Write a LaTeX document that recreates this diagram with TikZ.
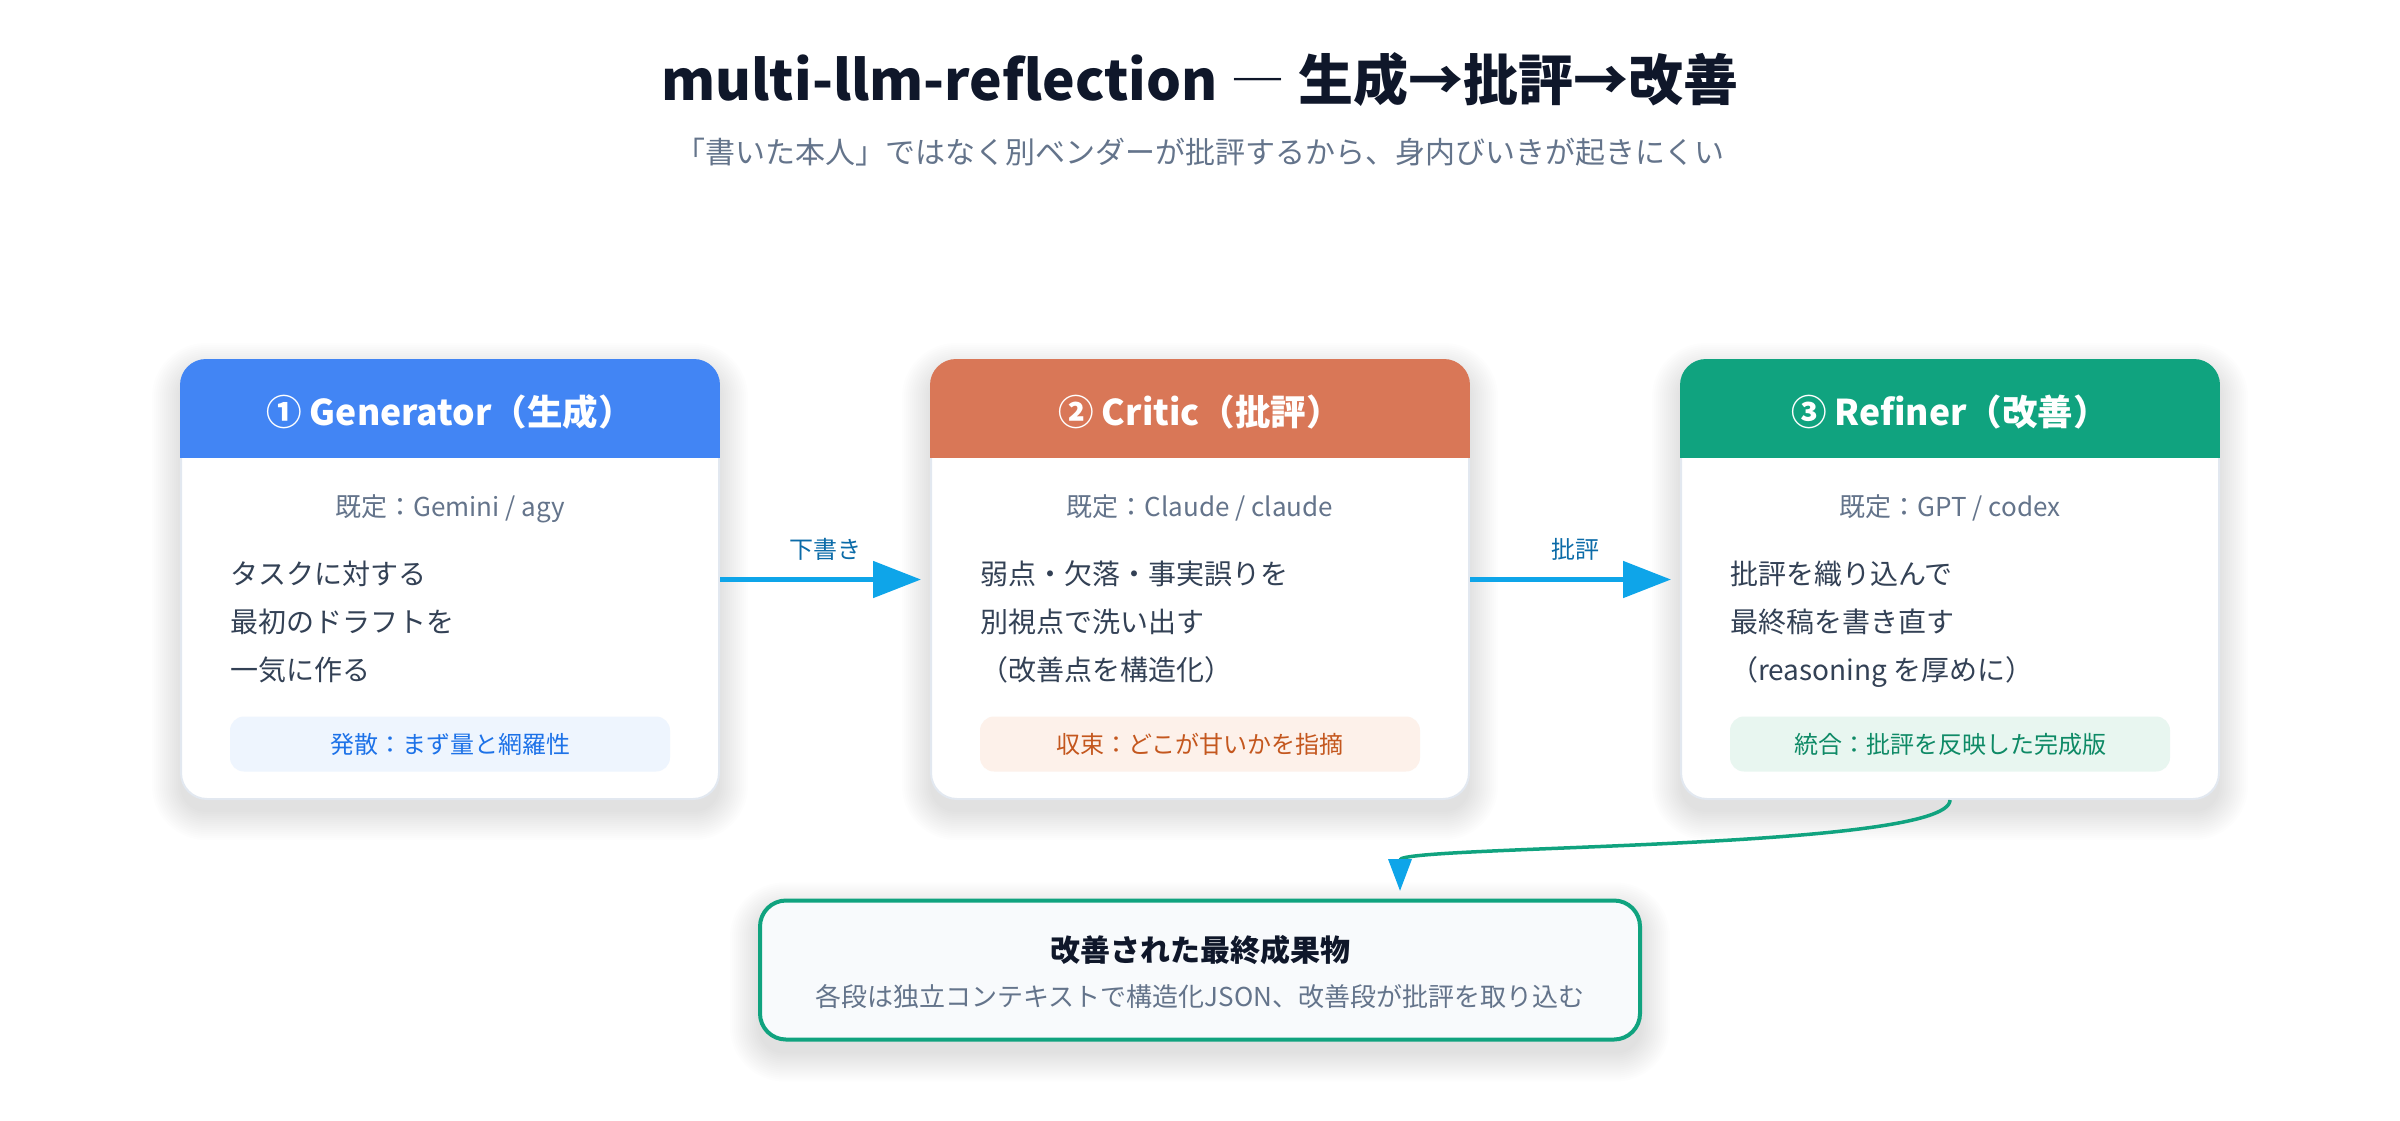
\documentclass[tikz,border=0pt]{standalone}
\usepackage{fontspec}
\setmainfont{Noto Sans CJK JP}
\usetikzlibrary{arrows.meta}
\pgfdeclarelayer{bg}
\pgfdeclarelayer{shadow}
\pgfsetlayers{bg,shadow,main}
\definecolor{ink}{HTML}{0F172A}
\definecolor{slate}{HTML}{64748B}
\definecolor{bodyc}{HTML}{334155}
\definecolor{cardline}{HTML}{E2E8F0}
\definecolor{gblue}{HTML}{4285F4}
\definecolor{corange}{HTML}{D97757}
\definecolor{ogreen}{HTML}{10A37F}
\definecolor{sky}{HTML}{0EA5E9}
\definecolor{skytext}{HTML}{0B6BA8}
\definecolor{tagbf}{HTML}{EEF5FE}
\definecolor{tagbt}{HTML}{1D72E8}
\definecolor{tagof}{HTML}{FDF1EA}
\definecolor{tagot}{HTML}{C4571E}
\definecolor{taggf}{HTML}{E8F6F0}
\definecolor{taggt}{HTML}{0E8A66}
\definecolor{finfill}{HTML}{F8FAFC}
\newcommand\softshadow[2]{%
  \begin{pgfonlayer}{shadow}
  \foreach \k in {0,2,...,28}{
    \pgfmathsetmacro\rr{#2+\k}
    \fill[black,opacity=0.008,rounded corners=\rr pt]
      ([xshift=-\k pt,yshift={\k pt-12pt}]#1.north west) rectangle
      ([xshift=\k pt,yshift={-\k pt-12pt}]#1.south east);
  }
  \end{pgfonlayer}}
\tikzset{
  fs/.style 2 args={font=\fontsize{#1}{#2}\selectfont},
  card/.style={draw=cardline, line width=2pt, fill=white, rounded corners=26pt,
    minimum width=538pt, minimum height=439pt, inner sep=0pt},
  hdr/.style={text=white, font=\bfseries\fontsize{35.5}{40}\selectfont, inner sep=0pt,
    text height=31.2pt, text depth=4.3pt},
  model/.style={fs={26}{30}, text=slate, inner sep=0pt, text height=22.9pt, text depth=3.1pt},
  bodyline/.style={fs={28}{34}, text=bodyc, anchor=west, inner sep=0pt,
    text height=24.6pt, text depth=3.4pt},
  tagpill/.style={rounded corners=14pt, minimum width=440pt, minimum height=55pt,
    inner sep=0pt, fs={24}{28}, text height=21.1pt, text depth=2.9pt},
  flow/.style={draw=sky, line width=5pt, -{Triangle[length=48pt,width=36pt]}, shorten >=9pt},
  flowlabel/.style={fs={24}{28}, text=skytext, inner sep=0pt},
}
\begin{document}
\begin{tikzpicture}[x=1pt,y=-1pt]
\begin{pgfonlayer}{bg}
\fill[white] (0,0) rectangle (2400,1120);
\end{pgfonlayer}
\useasboundingbox (0,0) rectangle (2400,1120);

% title
\node[font=\bfseries\fontsize{55}{62}\selectfont, text=ink, inner sep=0pt] (ttl) at (1200,80)
  {multi-llm-reflection\hspace{13pt}{\mdseries ―}\hspace{13pt}生成→批評→改善};
\node[fs={30}{34}, text=slate, inner sep=0pt] (sub) at (1200,152)
  {「書いた本人」ではなく別ベンダーが批評するから、身内びいきが起きにくい};

% cards
\foreach \nm/\cx/\col in {gen/450/gblue, crit/1200/corange, ref/1950/ogreen}{
  \node[card] (\nm) at (\cx,579.5) {};
  \softshadow{\nm}{26}
  \begin{scope}
    \clip[rounded corners=26pt] (\nm.north west) rectangle (\nm.south east);
    \fill[\col] (\nm.north west) rectangle ([yshift=-99pt]\nm.north east);
  \end{scope}
}

% headers
\node[hdr] (genh) at (450,412) {① Generator（生成）};
\node[hdr] (crith) at (1200,412) {② Critic（批評）};
\node[hdr] (refh) at (1950,412) {③ Refiner（改善）};

% model labels
\node[model] (genm) at (450,507) {既定：Gemini / agy};
\node[model] (critm) at (1200,507) {既定：Claude / claude};
\node[model] (refm) at (1950,507) {既定：GPT / codex};

% bodies
\node[bodyline] (g1) at (230,574) {タスクに対する};
\node[bodyline] (g2) at (230,622) {最初のドラフトを};
\node[bodyline] (g3) at (230,670) {一気に作る};
\node[bodyline] (c1) at (980,574) {弱点・欠落・事実誤りを};
\node[bodyline] (c2) at (980,622) {別視点で洗い出す};
\node[bodyline] (c3) at (980,670) {（改善点を構造化）};
\node[bodyline] (r1) at (1730,574) {批評を織り込んで};
\node[bodyline] (r2) at (1730,622) {最終稿を書き直す};
\node[bodyline] (r3) at (1730,670) {（reasoning を厚めに）};

% tags
\node[tagpill, fill=tagbf, text=tagbt] (gent) at (450,744) {発散：まず量と網羅性};
\node[tagpill, fill=tagof, text=tagot] (critt) at (1200,744) {収束：どこが甘いかを指摘};
\node[tagpill, fill=taggf, text=taggt] (reft) at (1950,744) {統合：批評を反映した完成版};

% final box
\node[draw=ogreen, line width=4pt, fill=finfill, rounded corners=26pt,
  minimum width=880pt, minimum height=139pt, inner sep=0pt] (fin) at (1200,970) {};
\softshadow{fin}{26}
\node[font=\bfseries\fontsize{30}{34}\selectfont, text=ink, inner sep=0pt] (fint) at (1200,950)
  {改善された最終成果物};
\node[fs={26}{30}, text=slate, inner sep=0pt] (fins) at (1200,997)
  {各段は独立コンテキストで構造化JSON、改善段が批評を取り込む};

% connectors
\draw[flow] (gen.east) -- node[flowlabel, above=17pt] (l1) {下書き} (crit.west);
\draw[flow] (crit.east) -- node[flowlabel, above=17pt] (l2) {批評} (ref.west);
\coordinate (finin) at (1400,891);
\draw[ogreen, line width=3.5pt, -{Triangle[length=32pt,width=23pt,color=sky]}]
  (ref.south) .. controls +(0,50) and +(0,-46) .. (finin);
\end{tikzpicture}
\end{document}
